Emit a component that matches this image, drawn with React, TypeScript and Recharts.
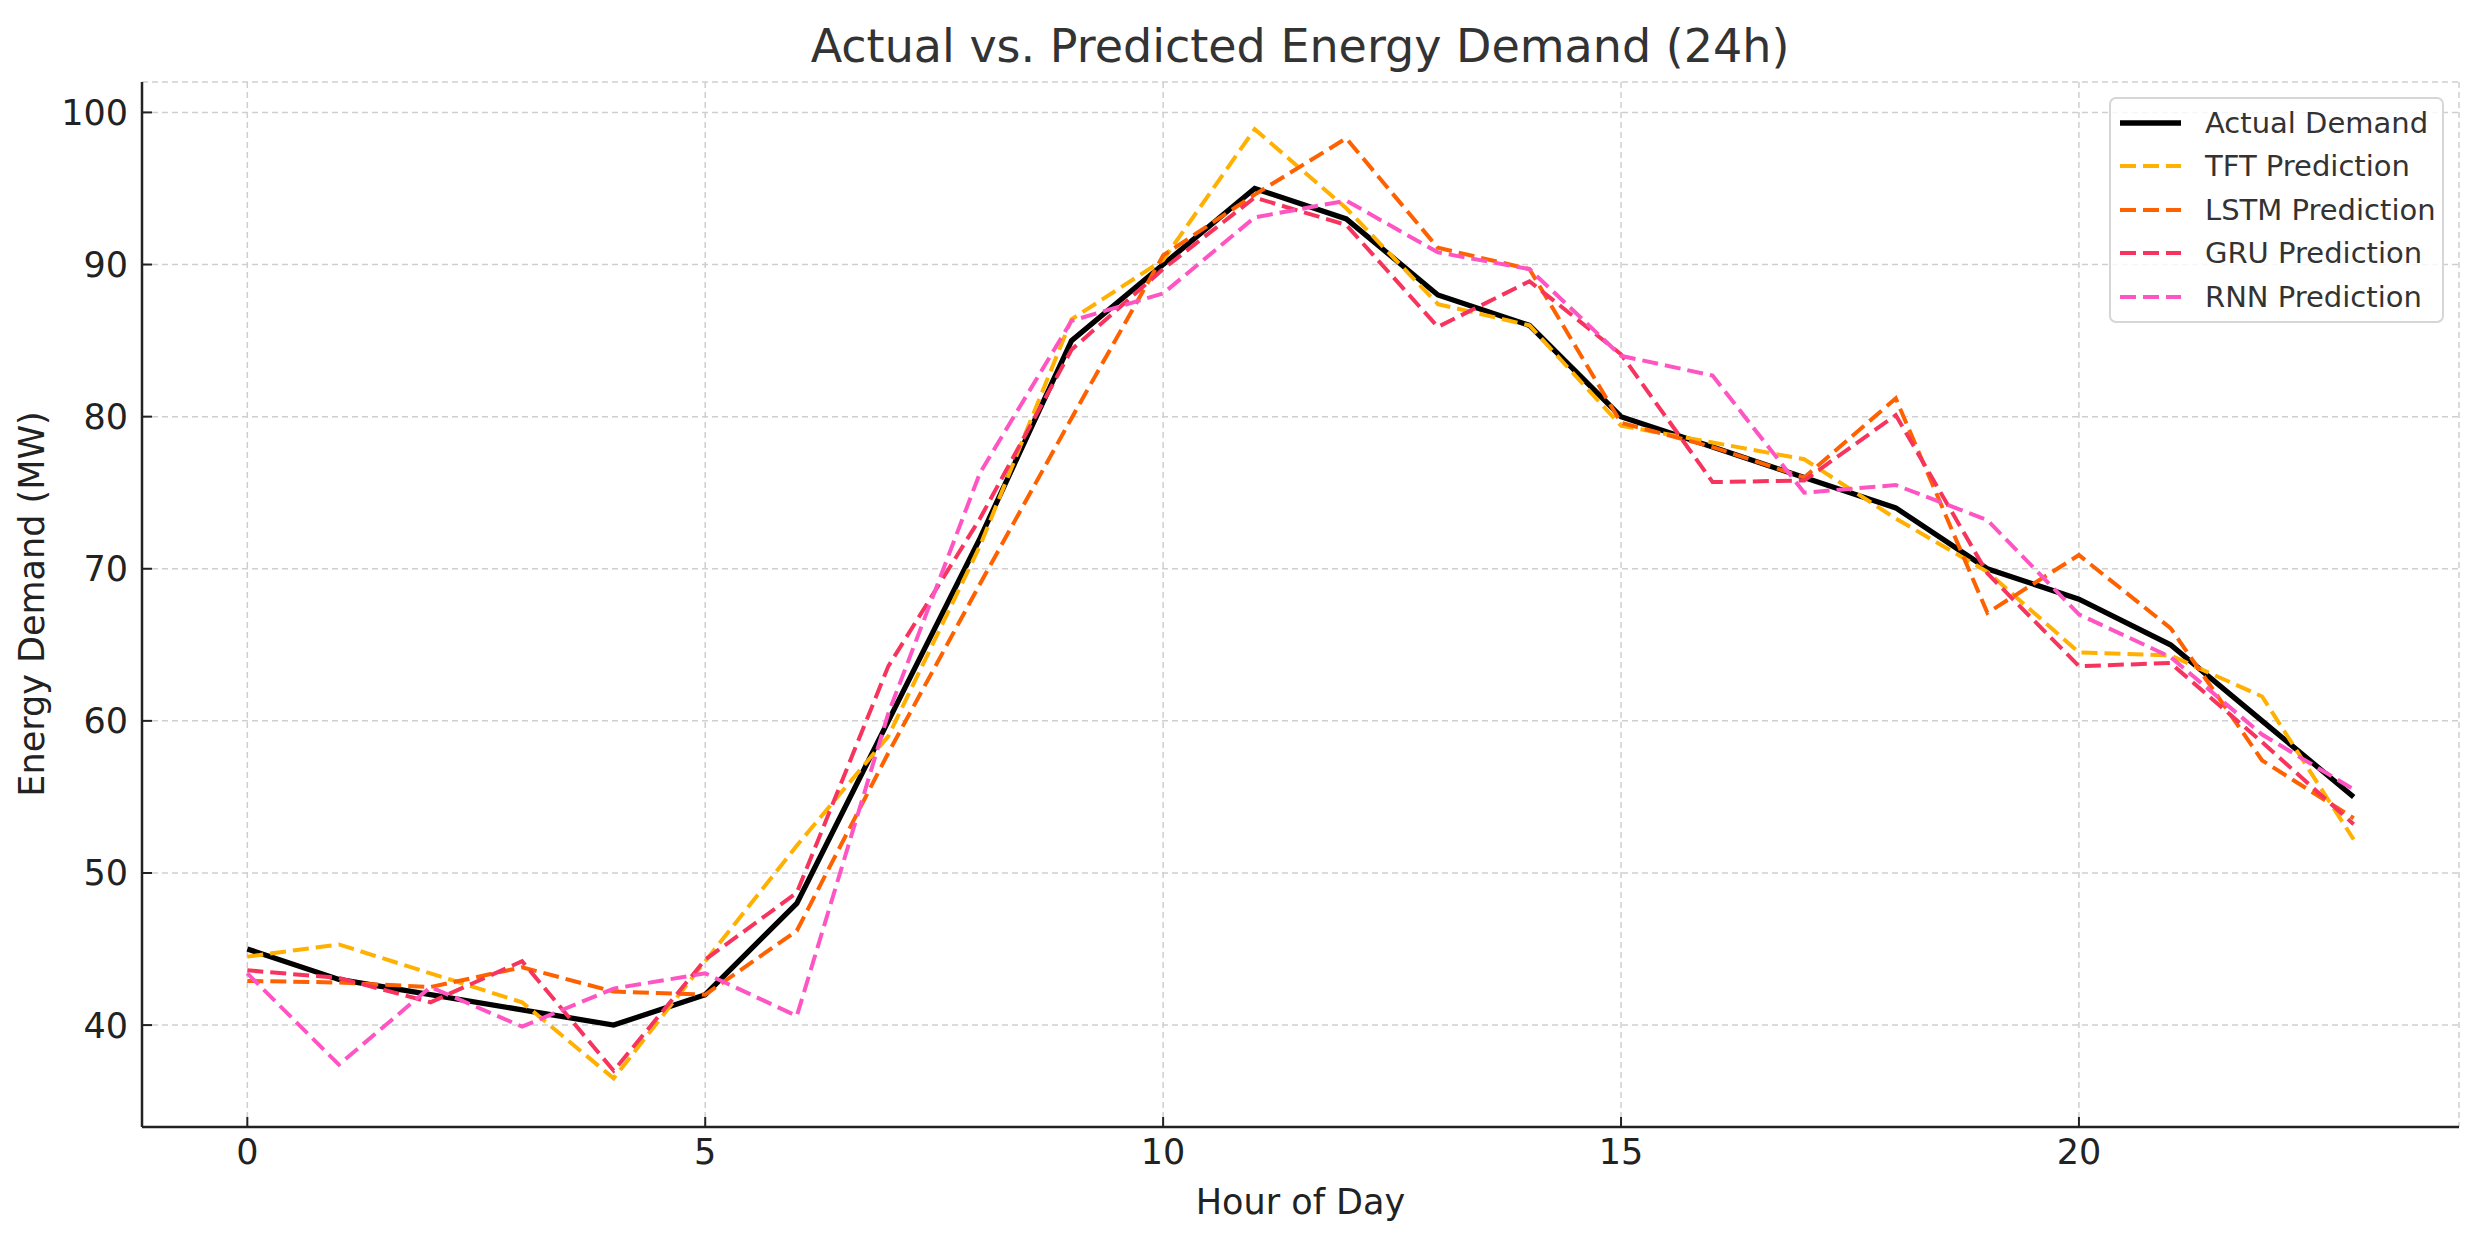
import { LineChart, Line, XAxis, YAxis, CartesianGrid, Legend } from "recharts";

const hours = [0, 1, 2, 3, 4, 5, 6, 7, 8, 9, 10, 11, 12, 13, 14, 15, 16, 17, 18, 19, 20, 21, 22, 23];
const actual = [45, 43, 42, 41, 40, 42, 48, 60, 72, 85, 90, 95, 93, 88, 86, 80, 78, 76, 74, 70, 68, 65, 60, 55];
const tft = [44.5, 45.3, 43.4, 41.5, 36.5, 44.2, 51.8, 59, 71.5, 86.4, 90.3, 98.9, 93.7, 87.4, 86, 79.4, 78.3, 77.2, 73.3, 69.8, 64.5, 64.3, 61.6, 52.2];
const lstm = [42.9, 42.8, 42.5, 43.8, 42.2, 42, 46.2, 57.9, 69, 79.9, 90.6, 94.6, 98.3, 91.1, 89.7, 79.6, 78, 76, 81.2, 67.1, 70.9, 66.1, 57.4, 53.6];
const gru = [43.6, 43.1, 41.5, 44.2, 37, 44.3, 48.7, 63.6, 73.3, 84.4, 89.7, 94.4, 92.6, 85.9, 88.9, 84.1, 75.7, 75.8, 80.1, 69.7, 63.6, 63.8, 58.6, 53.2];
const rnn = [43.4, 37.4, 42.5, 39.9, 42.4, 43.4, 40.6, 60.5, 76.3, 86.3, 88.1, 93.1, 94.2, 90.8, 89.7, 84, 82.7, 75, 75.5, 73.2, 67, 64.2, 59.1, 55.5];

const xTicks = [0, 5, 10, 15, 20];
const yTicks = [40, 50, 60, 70, 80, 90, 100];

const series = [
  { key: "actual", name: "Actual Demand", color: "#000000", dashed: false },
  { key: "tft", name: "TFT Prediction", color: "#FFB000", dashed: true },
  { key: "lstm", name: "LSTM Prediction", color: "#FE6100", dashed: true },
  { key: "gru", name: "GRU Prediction", color: "#F7345E", dashed: true },
  { key: "rnn", name: "RNN Prediction", color: "#FF55C3", dashed: true },
];

const data = hours.map((h, i) => ({
  hour: h,
  actual: actual[i],
  tft: tft[i],
  lstm: lstm[i],
  gru: gru[i],
  rnn: rnn[i],
}));

const FONT = "'DejaVu Sans', sans-serif";
const DASH = "16 7";

function LegendBox() {
  return (
    <div
      style={{
        boxSizing: "border-box",
        width: 335,
        height: 226,
        border: "2px solid #d6d6d6",
        borderRadius: 7,
        background: "rgba(255,255,255,0.8)",
        paddingTop: 2,
        fontFamily: FONT,
        fontSize: 29,
        color: "#333",
      }}
    >
      {series.map((s) => (
        <div key={s.key} style={{ height: 43.5, display: "flex", alignItems: "center" }}>
          <svg width={94} height={20} style={{ flex: "none" }}>
            <line
              x1={9}
              x2={70}
              y1={10}
              y2={10}
              stroke={s.color}
              strokeWidth={s.dashed ? 4 : 5.3}
              strokeDasharray={s.dashed ? DASH : undefined}
            />
          </svg>
          <span style={{ whiteSpace: "nowrap" }}>{s.name}</span>
        </div>
      ))}
    </div>
  );
}

export default function App() {
  return (
    <div style={{ position: "absolute", left: 0, top: 0, width: 2480, height: 1233, background: "#fff" }}>
      <div
        style={{
          position: "absolute",
          left: 0,
          width: 2600,
          top: 16,
          textAlign: "center",
          fontFamily: FONT,
          fontSize: 46,
          color: "#333",
          lineHeight: "60px",
        }}
      >
        Actual vs. Predicted Energy Demand (24h)
      </div>
      <LineChart
        width={2480}
        height={1233}
        data={data}
        margin={{ top: 82, right: 21, bottom: 0, left: 0 }}
        style={{ fontFamily: FONT }}
      >
        <CartesianGrid stroke="#cfcfcf" strokeWidth={1.5} strokeDasharray="6 4" />
        <XAxis
          dataKey="hour"
          type="number"
          domain={[-1.15, 24.15]}
          ticks={xTicks}
          allowDataOverflow
          height={106}
          tickSize={-10}
          tickMargin={22}
          stroke="#222"
          axisLine={{ stroke: "#222", strokeWidth: 2.5 }}
          tickLine={{ stroke: "#222", strokeWidth: 2 }}
          tick={{ fontSize: 35, fill: "#222", fontFamily: FONT }}
          label={{ value: "Hour of Day", position: "insideBottom", offset: 19, fontSize: 35, fill: "#222", fontFamily: FONT }}
        />
        <YAxis
          type="number"
          domain={[33.3, 102]}
          ticks={yTicks}
          allowDataOverflow
          width={142}
          tickSize={-10}
          tickMargin={24}
          stroke="#222"
          axisLine={{ stroke: "#222", strokeWidth: 2.5 }}
          tickLine={{ stroke: "#222", strokeWidth: 2 }}
          tick={{ fontSize: 35, fill: "#222", fontFamily: FONT }}
          label={{
            content: () => (
              <text
                x={44}
                y={604}
                transform="rotate(-90 44 604)"
                textAnchor="middle"
                fontSize={35}
                fill="#222"
                fontFamily={FONT}
              >
                Energy Demand (MW)
              </text>
            ),
          }}
        />
        <Legend
          layout="vertical"
          align="center"
          verticalAlign="middle"
          wrapperStyle={{ position: "absolute", left: 2109, top: 97, width: 335, height: 226 }}
          content={() => <LegendBox />}
        />
        {series.map((s) => (
          <Line
            key={s.key}
            type="linear"
            dataKey={s.key}
            name={s.name}
            stroke={s.color}
            strokeWidth={s.dashed ? 4 : 5.3}
            strokeDasharray={s.dashed ? DASH : undefined}
            dot={false}
            activeDot={false}
            isAnimationActive={false}
          />
        ))}
      </LineChart>
    </div>
  );
}
